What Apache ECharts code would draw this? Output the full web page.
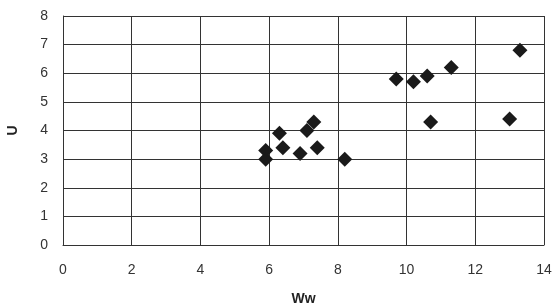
<!DOCTYPE html>
<html>
<head>
<meta charset="utf-8">
<script src="https://cdn.jsdelivr.net/npm/echarts@6/dist/echarts.min.js"></script>
<style>
  html, body { margin: 0; padding: 0; background: #fff; }
  #main { width: 556px; height: 308px; }
</style>
</head>
<body>
<div id="main"></div>
<script>
// 数据: Ww 与 U
var wwValues = [5.9, 5.9, 6.3, 6.4, 6.9, 7.1, 7.3, 7.4, 8.2, 9.7, 10.2, 10.6, 11.3, 10.7, 13.0, 13.3];
var uValues  = [3.3, 3.0, 3.9, 3.4, 3.2, 4.0, 4.3, 3.4, 3.0, 5.8, 5.7, 5.9, 6.2, 4.3, 4.4, 6.8];
var xTicks = [0, 2, 4, 6, 8, 10, 12, 14];
var yTicks = [0, 1, 2, 3, 4, 5, 6, 7, 8];

var points = [];
for (var i = 0; i < wwValues.length; i++) {
    points.push([wwValues[i], uValues[i]]);
}

var lineStyle = { color: '#333', width: 1 };
var labelFont = 'Liberation Sans';

var myChart = echarts.init(document.getElementById('main'));
var option = {
    animation: false,
    grid: { left: 63, right: 12, top: 16, bottom: 63, outerBoundsMode: 'none', containLabel: false },
    xAxis: {
        type: 'value',
        min: xTicks[0],
        max: xTicks[xTicks.length - 1],
        interval: 2,
        name: 'Ww',
        nameLocation: 'middle',
        nameGap: 47,
        nameTextStyle: { color: '#222', fontSize: 14, fontWeight: 'bold', fontFamily: labelFont },
        axisLine: { lineStyle: lineStyle },
        axisTick: { show: false },
        axisLabel: { margin: 18, color: '#333', fontSize: 14, fontFamily: labelFont },
        splitLine: { show: true, lineStyle: lineStyle }
    },
    yAxis: {
        type: 'value',
        min: yTicks[0],
        max: yTicks[yTicks.length - 1],
        interval: 1,
        name: 'U',
        nameLocation: 'middle',
        nameRotate: 90,
        nameGap: 43,
        nameTextStyle: { color: '#222', fontSize: 14, fontWeight: 'bold', fontFamily: labelFont },
        axisLine: { show: true, lineStyle: lineStyle },
        axisTick: { show: false },
        axisLabel: { margin: 15, color: '#333', fontSize: 14, fontFamily: labelFont },
        splitLine: { show: true, lineStyle: lineStyle }
    },
    series: [{
        type: 'scatter',
        symbol: 'diamond',
        symbolSize: 15,
        itemStyle: { color: '#1a1a1a', opacity: 1 },
        data: points
    }]
};
myChart.setOption(option);
</script>
</body>
</html>
